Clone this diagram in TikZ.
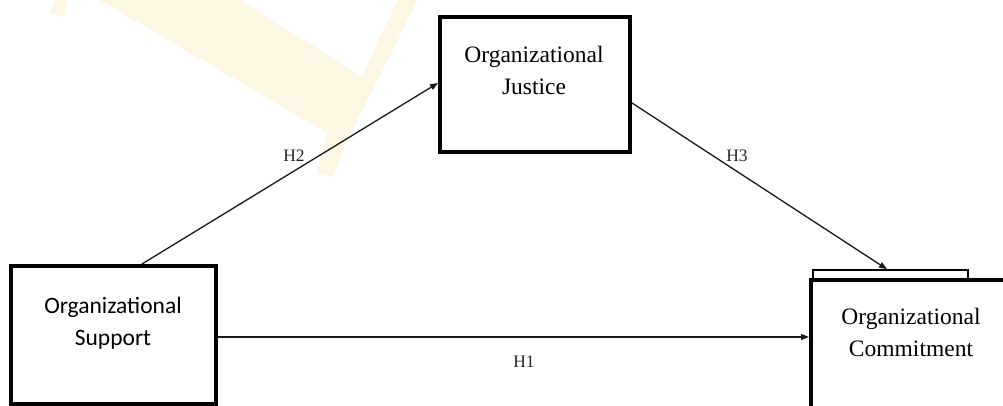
\documentclass[tikz,border=0pt]{standalone}
\usepackage{fontspec}
\setmainfont{Liberation Serif}
\newfontfamily\calib{Carlito}
\usetikzlibrary{arrows.meta}
\definecolor{wmark}{RGB}{251,247,226}
\tikzset{
  box/.style={draw=black, line width=4pt, inner sep=0pt, fill=none},
  tab/.style={draw=black, line width=1.6pt, inner sep=0pt},
  txt/.style={align=center, inner sep=0pt, font=\fontsize{23.5}{32}\selectfont},
  hlab/.style={inner sep=0pt, font=\fontsize{17.5}{20}\selectfont, text=black!85},
  conn/.style={draw=black!90, line width=1.3pt, -{Triangle[length=8pt,width=6pt]}}
}
\begin{document}
\begin{tikzpicture}[x=1pt,y=-1pt]
\clip (0,0) rectangle (1003,406);
\fill[white] (0,0) rectangle (1003,406);
% watermark
\fill[wmark] (100,0) -- (240,0) -- (362,77) -- (377,43) -- (398,0) -- (417,0)
  -- (393,50) -- (367,100) -- (347,140) -- (333,177) -- (317,173) -- (327,133) -- cycle;
\fill[wmark] (55,0) -- (68,0) -- (64,17) -- (50,13) -- cycle;
% boxes
\node[box, minimum width=190pt, minimum height=135pt] (js) at (535,84.5) {};
\node[box, minimum width=205pt, minimum height=138pt] (sp) at (113.5,335) {};
\node[box, minimum width=199pt, minimum height=140pt] (cm) at (910.5,350) {};
\node[tab, minimum width=155pt, minimum height=10pt] (cmtab) at (890.5,275) {};
\draw[box] (cm.north west) ++(2pt,-2pt) -- ++(200pt,0);
% texts
\node[txt] (jsT) at (534,70) {Organizational\\Justice};
\node[txt, font=\calib\fontsize{23.5}{32}\selectfont] (spT) at (113,323) {Organizational\\Support};
\node[txt] (cmT) at (911,332) {Organizational\\Commitment};
% connectors
\coordinate (h1s) at ([yshift=-2pt]sp.east);
\draw[conn] (h1s) -- (cm.west |- h1s);
\draw[conn] ([xshift=28.5pt]sp.north) -- ([yshift=1.5pt]js.west);
\draw[conn] ([yshift=-18.5pt]js.east) -- ([xshift=-3.5pt]cmtab.north);
% labels
\node[hlab] (h2) at (294,156) {H2};
\node[hlab] (h3) at (737,156) {H3};
\node[hlab] (h1) at (524,362) {H1};
\end{tikzpicture}
\end{document}
